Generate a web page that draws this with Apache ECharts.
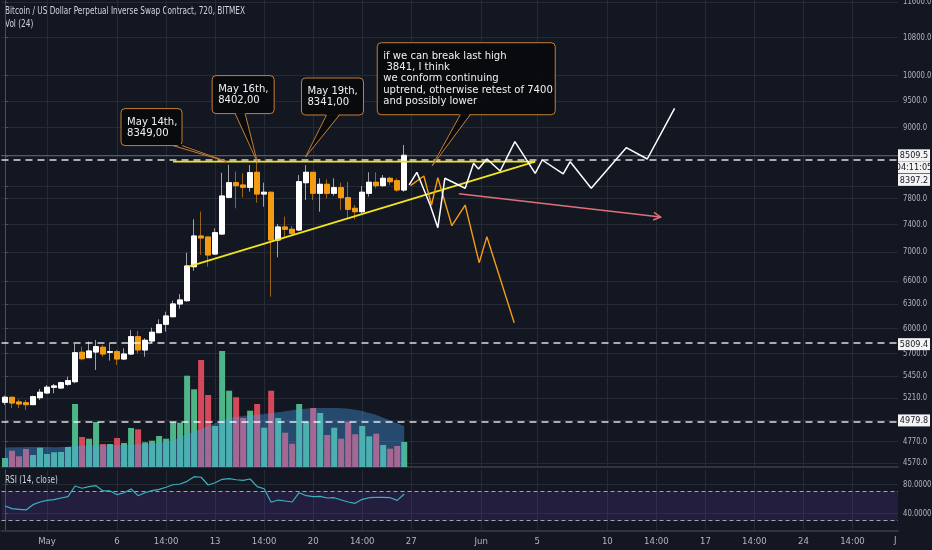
<!DOCTYPE html>
<html><head><meta charset="utf-8">
<script src="https://cdn.jsdelivr.net/npm/echarts@6/dist/echarts.min.js"></script>
<style>html,body{margin:0;padding:0;background:#131722;overflow:hidden}#c{width:932px;height:550px}</style>
</head><body><div id="c"></div>
<script>
// ---------------- DATA ----------------
const startUTC = Date.UTC(2019, 3, 28); // first 12h slot
const slotCount = 128;
const open  = [5166,5218,5169,5161,5141,5214,5264,5325,5317,5357,5385,5715,5653,5718,5773,5715,5722,5638,5695,5898,5742,5847,5946,6048,6141,6301,6343,6794,7229,7214,6971,7258,7817,8051,8014,7977,8222,7869,7897,7171,7362,7328,7317,8051,8222,7881,8025,7881,7970,7811,7645,7593,7881,8058,8003,8123,8084,7933];
const close = [5218,5158,5148,5141,5224,5271,5325,5339,5374,5396,5710,5641,5730,5780,5695,5722,5638,5695,5898,5742,5855,5951,6043,6150,6301,6352,6804,7229,7200,6957,7277,7838,8051,8003,7977,8215,7869,7897,7171,7362,7328,7269,8067,8222,7881,8025,7881,7970,7811,7630,7593,7897,8058,8003,8123,8067,7933,8509.5];
const low   = [5138,5106,5106,5086,5138,5190,5253,5260,5310,5339,5368,5623,5653,5514,5664,5619,5570,5627,5684,5703,5664,5820,5939,5958,6134,6241,6330,6739,6957,6794,6957,7244,7801,7645,7817,7906,7732,7670,6395,6924,7219,7229,7302,7775,7775,7593,7801,7842,7619,7492,7477,7569,7827,7961,7986,8014,7906,7906];
const high  = [5235,5224,5197,5190,5235,5306,5349,5360,5385,5440,5812,5780,5839,5859,5800,5820,5742,5761,5978,5966,5879,6006,6109,6203,6343,6429,6989,7477,7593,7219,7342,8215,8349,8232,8205,8344,8402,8051,7906,7407,7517,7377,8177,8341,8226,8123,8107,8123,8051,8067,7696,7998,8222,8222,8177,8149,8123,8689];
const volume   = [90,163,107,180,120,193,130,147,150,200,630,300,283,450,230,230,290,240,390,377,247,263,310,283,450,443,913,777,1070,720,410,1160,763,697,490,563,630,393,763,490,343,233,630,453,590,540,320,393,283,453,327,410,307,333,220,183,210,250];
const volumeMA = [193,197,197,200,200,200,200,197,200,203,210,213,217,217,217,220,220,220,223,227,230,233,240,253,270,297,327,353,380,410,437,470,490,500,510,517,523,530,540,547,557,567,577,583,587,590,590,590,587,583,573,560,540,520,493,467,437,410];
const rsi = [50.1,46.4,45.5,44.6,51.9,55.6,57.9,58.8,61.1,62.9,77.7,74.5,76.7,78.1,70.8,70.8,65.7,68.4,73.5,64.3,68.4,71.2,73.1,75.9,79.4,80.4,84.1,90.5,89.7,79.0,82.2,86.9,87.7,86.3,85.5,87.3,76.7,73.9,55.2,58.3,57.0,55.6,68.4,64.3,62.9,63.4,61.1,61.5,58.3,55.6,53.8,59.3,61.5,62.1,62.1,61.5,57.9,66.6];

const priceTicks  = [11600,10800,10000,9500,9000,8500,8000,7800,7400,7000,6600,6300,6000,5700,5450,5210,4980,4770,4570];
const priceLabels = [11600,10800,10000,9500,9000,7800,7400,7000,6600,6300,6000,5700,5450,5210,4770,4570];
const rsiTicks = [40, 80];
const rsiBand = [30, 70];
const xTickIdx  = [6,16,23,30,37,44,51,58,68,76,86,93,100,107,114,121];
const xTickText = ['May','6','14:00','13','14:00','20','14:00','27','Jun','5','10','14:00','17','14:00','24','14:00'];

const lastPrice = 8509.5;
const countdown = '04:11:05';
const levelPrices = [8397.2, 5809.4, 4979.8];

const resistance = [[24, 8402], [75.7, 8402]];
const trendline  = [[26.2, 6794], [75.7, 8402]];
const bullPath = [[57.7,8014],[58.8,8222],[60.7,7696],[61.8,7351],[62.8,8123],[65.7,7961],[66.9,8373],[67.6,8277],[68.8,8446],[70.7,8244],[72.8,8747],[75.7,8205],[76.7,8429],[79.7,8194],[80.7,8400],[83.7,7961],[88.7,8641],[91.7,8446],[95.6,9357]];
const bearPath = [[57.9,8003],[59.8,8161],[60.9,7696],[61.8,8133],[63.8,7381],[65.7,7696],[67.7,6849],[68.8,7219],[72.7,6067]];
const arrowLine = [[64.8,7874],[93.6,7512]];
const calloutTips  = [[31.7,8402],[36,8402],[42.9,8480],[61,8332]];
const calloutTexts = ['May 14th,\n8349,00','May 16th,\n8402,00','May 19th,\n8341,00',
  'if we can break last high\n 3841, I think\nwe conform continuing\nuptrend, otherwise retest of 7400\nand possibly lower'];
const titleMain = 'Bitcoin / US Dollar Perpetual Inverse Swap Contract, 720, BITMEX';
const titleVol = 'Vol (24)';
const titleRsi = 'RSI (14, close)';

// ---------------- LAYOUT / STYLE ----------------
const axisPriceMin = 4532.3, axisPriceMax = 11646.9;
const calloutLayout = [
  {dx:-106, dy:-53, w:61, h:37, b0:52, b1:61},
  {dx:-45,  dy:-86, w:62, h:38, b0:23, b1:33},
  {dx:-4,   dy:-79, w:62, h:37, b0:25, b1:38},
  {dx:-55,  dy:-123,w:178,h:72, b0:83, b1:93}
];
const tagShift = [0, 12, 18, 0, 0];
const BG = '#131722', GRID = '#262a35', AXIS = '#4a4f5b', TXT = '#b2b5be', TTL = '#d1d4dc';
const UP = '#ffffff', DN = '#f39c12';
const UPW = 'rgba(255,255,255,0.6)', DNW = 'rgba(200,125,20,0.75)';
const VUP = '#4db587', VDN = '#d5485a';

function hasFont(name){
  const c = document.createElement('canvas').getContext('2d');
  const s = 'abcdefghijklmnopqrstuvwxyz0123456789 ABCDEFGHIJ';
  let r = false;
  ['monospace','serif'].forEach(fb=>{
    c.font = '40px ' + fb; const a = c.measureText(s).width;
    c.font = '40px "' + name + '", ' + fb; const b = c.measureText(s).width;
    if (a !== b) r = true;
  });
  return r;
}
const narrow = ['Liberation Sans Narrow','DejaVu Sans Condensed','Roboto Condensed','Arial Narrow'].find(hasFont);
const FF = narrow ? ('"' + narrow + '", sans-serif') : 'Roboto, sans-serif';
const K = narrow ? 1 : 0.82;
const SX = narrow ? 1 : 0.8;
const TSX = narrow ? 0.85 : 0.63;
const YSX = narrow ? 0.85 : 0.7;   // squeeze for axis value labels

const L = Math.log;
const cats = Array.from({length: slotCount}, (_, i) => new Date(startUTC + i * 43200000).toISOString().slice(0, 13));
const wickData = open.map((o, i) => [L(o), L(close[i]), L(low[i]), L(high[i])]);
const bodyData = open.map((o, i) => { const c = close[i]; return [L(o), L(c), L(Math.min(o, c)), L(Math.max(o, c))]; });
const volData = volume.map((v, i) => ({value: v, itemStyle: {color: close[i] >= open[i] ? VUP : VDN}}));
const toLn = arr => arr.map(([x, p]) => [x, L(p)]);

const tagValues = [lastPrice, lastPrice].concat(levelPrices);
const tagTexts = [lastPrice.toFixed(1), countdown].concat(levelPrices.map(p => p.toFixed(1)));

const chart = echarts.init(document.getElementById('c'), null, {renderer: 'canvas'});
const hiddenCat = (grid) => ({type: 'category', gridIndex: grid, data: cats, show: false, boundaryGap: true});
const titleText = (text, x, y) => ({type: 'text', x: x, y: y, scaleX: TSX, scaleY: 1, silent: true,
  style: {text: text, fill: TTL, font: '9.6px ' + FF, verticalAlign: 'middle', align: 'left'}});
const gridBox = (top, height) => ({left: 1.5, right: 34, top: top, height: height, containLabel: false, outerBoundsMode: 'none'});

// right-hand value labels, placed through the y scale of the given axis
const axisLabelSeries = (xi, yi, values, fmt) => ({
  type: 'custom', xAxisIndex: xi, yAxisIndex: yi, z: 15, silent: true, clip: false,
  data: values.map(v => [0, v]),
  renderItem: (params, api) => {
    const cs = params.coordSys;
    const y = api.coord([0, api.value(1)])[1];
    return {type: 'text', x: cs.x + cs.width + 5, y: y, scaleX: YSX, scaleY: 1,
      style: {text: fmt(api.value(1)), x: 0, y: 0, fill: TXT, font: '9px ' + FF, align: 'left', verticalAlign: 'middle'}};
  }
});

const option = {
  backgroundColor: BG,
  animation: false,
  textStyle: {fontFamily: FF},
  grid: [gridBox(0, 467), gridBox(267, 200), gridBox(469.8, 60.9)],
  xAxis: [
    hiddenCat(0),
    {type: 'value', gridIndex: 0, min: -0.5, max: slotCount - 0.5, position: 'bottom',
     axisLine: {show: true, lineStyle: {color: '#30343f', width: 2}},
     axisTick: {show: false, customValues: xTickIdx}, axisLabel: {show: false},
     splitLine: {show: true, lineStyle: {color: GRID, width: 1}}},
    hiddenCat(1),
    hiddenCat(2),
    {type: 'value', gridIndex: 2, min: -0.5, max: slotCount - 0.5, position: 'bottom',
     axisLine: {show: true, lineStyle: {color: '#30343f', width: 2}},
     axisTick: {show: false, customValues: xTickIdx},
     axisLabel: {show: true, customValues: xTickIdx, color: TXT, fontSize: 9.5 * K, fontFamily: FF, margin: 6,
       formatter: v => xTickText[xTickIdx.indexOf(Math.round(v))] || ''},
     splitLine: {show: true, lineStyle: {color: GRID, width: 1}}}
  ],
  yAxis: [
    {type: 'value', gridIndex: 0, position: 'right', min: L(axisPriceMin), max: L(axisPriceMax),
     axisLine: {show: true, lineStyle: {color: AXIS}},
     axisTick: {show: true, length: 3, customValues: priceTicks.map(L), lineStyle: {color: AXIS}},
     axisLabel: {show: false},
     splitLine: {show: true, lineStyle: {color: GRID, width: 1}}},
    {type: 'value', gridIndex: 1, min: 0, max: 2000, show: false, splitLine: {show: false}},
    {type: 'value', gridIndex: 2, position: 'right', min: 16, max: 100,
     axisLine: {show: true, lineStyle: {color: AXIS}},
     axisTick: {show: true, length: 3, customValues: rsiTicks, lineStyle: {color: AXIS}},
     axisLabel: {show: false},
     splitLine: {show: true, lineStyle: {color: GRID, width: 1}}}
  ],
  series: [
    {name: 'vol', type: 'bar', xAxisIndex: 2, yAxisIndex: 1, data: volData, barWidth: 6, z: 1, silent: true},
    {name: 'volMA', type: 'line', xAxisIndex: 2, yAxisIndex: 1, data: volumeMA, smooth: true, symbol: 'none', z: 2,
     lineStyle: {width: 0}, areaStyle: {color: 'rgba(75,167,250,0.5)'}, silent: true},
    {name: 'wicks', type: 'candlestick', xAxisIndex: 0, yAxisIndex: 0, data: wickData, barWidth: 5, z: 3,
     itemStyle: {color: UPW, color0: DNW, borderColor: UPW, borderColor0: DNW, borderWidth: 1}, silent: true},
    {name: 'bodies', type: 'candlestick', xAxisIndex: 0, yAxisIndex: 0, data: bodyData, barWidth: 5, z: 4,
     itemStyle: {color: UP, color0: DN, borderColor: UP, borderColor0: DN, borderWidth: 1}, silent: true,
     markLine: {symbol: 'none', silent: true, label: {show: false},
       data: [
         {yAxis: L(lastPrice), lineStyle: {type: 'dotted', color: 'rgba(210,212,220,0.7)', width: 1}},
         ...levelPrices.map(p => ({yAxis: L(p), lineStyle: {type: [7, 5], color: 'rgba(255,255,255,0.85)', width: 1.6}}))
       ]}},
    {name: 'resistance', type: 'line', xAxisIndex: 1, yAxisIndex: 0, data: toLn(resistance), symbol: 'none', z: 5,
     lineStyle: {color: '#f2e41c', width: 1.8}, silent: true},
    {name: 'trend', type: 'line', xAxisIndex: 1, yAxisIndex: 0, data: toLn(trendline), symbol: 'none', z: 5,
     lineStyle: {color: '#f2e41c', width: 1.8}, silent: true},
    {name: 'bear', type: 'line', xAxisIndex: 1, yAxisIndex: 0, data: toLn(bearPath), symbol: 'none', z: 5,
     lineStyle: {color: '#f39c12', width: 1.4}, silent: true},
    {name: 'bull', type: 'line', xAxisIndex: 1, yAxisIndex: 0, data: toLn(bullPath), symbol: 'none', z: 6,
     lineStyle: {color: '#ffffff', width: 1.5}, silent: true},
    {name: 'arrow', type: 'custom', xAxisIndex: 1, yAxisIndex: 0, z: 6, silent: true,
     data: [[arrowLine[0][0], L(arrowLine[0][1]), arrowLine[1][0], L(arrowLine[1][1])]],
     renderItem: (params, api) => {
       const a = api.coord([api.value(0), api.value(1)]);
       const b = api.coord([api.value(2), api.value(3)]);
       const ang = Math.atan2(b[1] - a[1], b[0] - a[0]), len = 8, sp = 0.5;
       const p1 = [b[0] - len * Math.cos(ang - sp), b[1] - len * Math.sin(ang - sp)];
       const p2 = [b[0] - len * Math.cos(ang + sp), b[1] - len * Math.sin(ang + sp)];
       const st = {stroke: '#e0707a', lineWidth: 1.5, fill: null};
       return {type: 'group', children: [
         {type: 'line', shape: {x1: a[0], y1: a[1], x2: b[0], y2: b[1]}, style: st},
         {type: 'polyline', shape: {points: [p1, b, p2]}, style: st}
       ]};
     }},
    {name: 'callouts', type: 'custom', xAxisIndex: 1, yAxisIndex: 0, z: 8, silent: true, clip: false,
     data: toLn(calloutTips),
     renderItem: (params, api) => {
       const t = api.coord([api.value(0), api.value(1)]);
       const g = calloutLayout[params.dataIndex];
       const x = t[0] + g.dx, y = t[1] + g.dy;
       const bx0 = x + g.b0, bx1 = x + g.b1, by = y + g.h;
       const fill = 'rgba(9,10,13,0.93)', stroke = '#c47f36';
       return {type: 'group', children: [
         {type: 'rect', shape: {x: x, y: y, width: g.w, height: g.h, r: 4}, style: {fill: fill, stroke: stroke, lineWidth: 1}},
         {type: 'polygon', shape: {points: [[bx0, by - 1.5], t, [bx1, by - 1.5]]}, style: {fill: fill}},
         {type: 'polyline', shape: {points: [[bx0, by], t, [bx1, by]]}, style: {stroke: stroke, fill: null, lineWidth: 1}},
         {type: 'text', x: x + 6, y: y + 7.4, scaleX: SX, scaleY: 1,
          style: {text: calloutTexts[params.dataIndex], fill: '#f0f0f0', font: (11.2 * (narrow ? 1 : 0.95)) + 'px ' + FF,
                  lineHeight: 11.3, align: 'left', verticalAlign: 'top'}}
       ]};
     }},
    axisLabelSeries(1, 0, priceLabels.map(L), v => Math.exp(v).toFixed(1)),
    axisLabelSeries(4, 2, rsiTicks, v => v.toFixed(4)),
    {name: 'tags', type: 'custom', xAxisIndex: 1, yAxisIndex: 0, z: 20, silent: true, clip: false,
     data: tagValues.map(v => [0, L(v)]),
     renderItem: (params, api) => {
       const cs = params.coordSys;
       const xr = cs.x + cs.width;
       const y = api.coord([0, api.value(1)])[1] + tagShift[params.dataIndex];
       return {type: 'group', children: [
         {type: 'rect', shape: {x: xr, y: y - 6, width: 32, height: 12}, style: {fill: '#f4f4f4'}},
         {type: 'text', x: xr + 16, y: y + 0.5, scaleX: narrow ? 1 : 0.8, scaleY: 1,
          style: {text: tagTexts[params.dataIndex], x: 0, y: 0, align: 'center', verticalAlign: 'middle',
           fill: '#131722', font: '9px ' + FF}}
       ]};
     }},
    {name: 'RSI', type: 'line', xAxisIndex: 3, yAxisIndex: 2, data: rsi, symbol: 'none', z: 5, silent: true,
     lineStyle: {color: '#38b2c0', width: 1.2},
     markArea: {silent: true, itemStyle: {color: 'rgba(120,60,200,0.17)'}, data: [[{yAxis: rsiBand[0]}, {yAxis: rsiBand[1]}]]},
     markLine: {symbol: 'none', silent: true, label: {show: false},
       lineStyle: {type: [4, 3], color: 'rgba(210,212,220,0.75)', width: 1.2},
       data: rsiBand.map(v => ({yAxis: v}))}}
  ],
  graphic: [
    titleText(titleMain, 5, 11),
    titleText(titleVol, 5, 24),
    titleText(titleRsi, 5, 480),
    {type: 'text', left: 894, top: 536, silent: true, style: {text: 'J', fill: TXT, font: (9.5 * K) + 'px ' + FF}}
  ]
};
chart.setOption(option);
</script>
</body></html>
